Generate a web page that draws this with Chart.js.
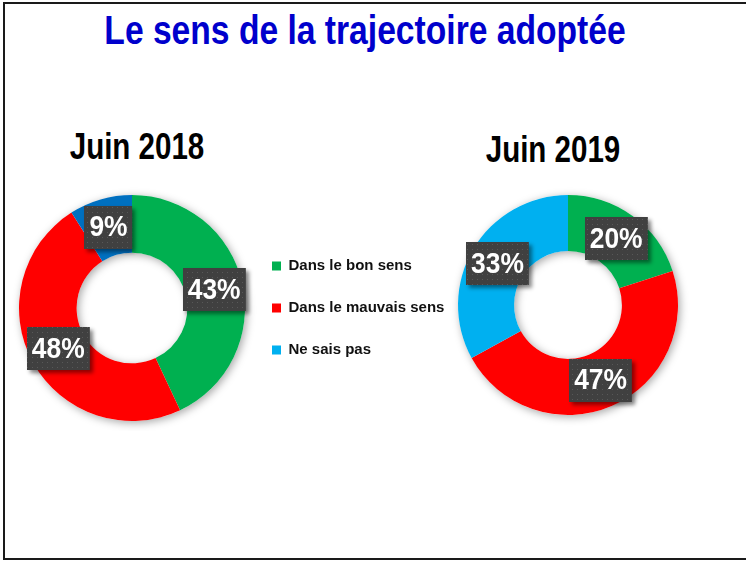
<!DOCTYPE html>
<html lang="fr">
<head>
<meta charset="utf-8">
<title>Le sens de la trajectoire adoptée</title>
<script src="https://cdn.jsdelivr.net/npm/chart.js@4.4.1/dist/chart.umd.min.js"></script>
<style>
  html, body { margin: 0; padding: 0; background: #fff; }
  .page { position: relative; width: 746px; height: 562px; overflow: hidden; }
  .frame { position: absolute; left: 3px; top: 2px; width: 760px; height: 554px; border: 2px solid #1a1a1a; border-right: none; }
  .title { position: absolute; margin: 0; text-align: center; white-space: nowrap; line-height: 1;
           font-family: "Liberation Sans", Arial, sans-serif; font-weight: bold;
           transform: scaleX(0.82); transform-origin: 50% 50%; }
  .main-title { left: 0; width: 730px; top: 10px; font-size: 41px; color: #0000CC; }
  .sub-title { width: 200px; font-size: 36px; color: #000; }
  canvas { position: absolute; }
</style>
</head>
<body>
<div class="page">
  <div class="frame"></div>
  <h1 class="title main-title">Le sens de la trajectoire adoptée</h1>
  <div class="title sub-title" id="t2018" style="left:37px; top:129px;"></div>
  <div class="title sub-title" id="t2019" style="left:453px; top:132px;"></div>
  <canvas id="chart2018" width="470" height="246" style="left:0; top:185px;"></canvas>
  <canvas id="chart2019" width="256" height="246" style="left:440px; top:182px;"></canvas>
</div>

<script>
const categories = ['Dans le bon sens', 'Dans le mauvais sens', 'Ne sais pas'];
const periods = ['Juin 2018', 'Juin 2019'];
const values2018 = [43, 48, 9];
const values2019 = [20, 47, 33];
const colors2018 = ['#00B050', '#FF0000', '#0070C0'];
const colors2019 = ['#00B050', '#FF0000', '#00B0F0'];

document.getElementById('t2018').textContent = periods[0];
document.getElementById('t2019').textContent = periods[1];

// little dotted texture for the label boxes
const dots = document.createElement('canvas');
dots.width = 5; dots.height = 5;
const dctx = dots.getContext('2d');
dctx.fillStyle = 'rgba(255,255,255,0.13)';
dctx.fillRect(2, 2, 1, 1);
const dotPattern = dctx.createPattern(dots, 'repeat');

// soft shadow behind the ring
const ringShadow = {
  id: 'ringShadow',
  beforeDatasetsDraw(chart) {
    const arc = chart.getDatasetMeta(0).data[0];
    if (!arc) return;
    const { x, y, outerRadius, innerRadius } = arc.getProps(['x', 'y', 'outerRadius', 'innerRadius'], true);
    const ctx = chart.ctx;
    ctx.save();
    ctx.beginPath();
    ctx.arc(x, y, outerRadius, 0, Math.PI * 2);
    ctx.arc(x, y, innerRadius, 0, Math.PI * 2, true);
    ctx.shadowColor = 'rgba(0,0,0,0.35)';
    ctx.shadowBlur = 8;
    ctx.shadowOffsetX = 2;
    ctx.shadowOffsetY = 2;
    ctx.fillStyle = '#fff';
    ctx.fill();
    ctx.restore();
  }
};

// dark boxed percentage labels, text squeezed like a narrow face
const NARROW = 0.88;
const boxLabels = {
  id: 'boxLabels',
  afterDatasetsDraw(chart) {
    const ctx = chart.ctx;
    const data = chart.data.datasets[0].data;
    chart.getDatasetMeta(0).data.forEach((arc, i) => {
      const p = arc.tooltipPosition(true);
      const text = data[i] + '%';
      ctx.save();
      ctx.font = 'bold 30px "Liberation Sans", Arial, sans-serif';
      const w = ctx.measureText(text).width * NARROW + 10;
      const h = 43;
      const bx = Math.round(p.x - w / 2), by = Math.round(p.y - h / 2);
      ctx.shadowColor = 'rgba(0,0,0,0.45)';
      ctx.shadowBlur = 4;
      ctx.shadowOffsetX = 3;
      ctx.shadowOffsetY = 3;
      ctx.fillStyle = '#404040';
      ctx.fillRect(bx, by, w, h);
      ctx.shadowColor = 'transparent';
      ctx.fillStyle = dotPattern;
      ctx.fillRect(bx, by, w, h);
      ctx.translate(p.x, p.y + 1);
      ctx.scale(NARROW, 1);
      ctx.fillStyle = '#fff';
      ctx.textAlign = 'center';
      ctx.textBaseline = 'middle';
      ctx.fillText(text, 0, 0);
      ctx.restore();
    });
  }
};

function donut(id, values, colors, padding, legend) {
  return new Chart(document.getElementById(id), {
    type: 'doughnut',
    data: {
      labels: categories,
      datasets: [{ data: values, backgroundColor: colors, borderWidth: 0, hoverOffset: 0 }]
    },
    options: {
      responsive: false,
      animation: false,
      events: [],
      cutout: '49%',
      layout: { padding: padding },
      plugins: { legend: legend, tooltip: { enabled: false }, title: { display: false } }
    },
    plugins: [ringShadow, boxLabels]
  });
}

const left = donut('chart2018', values2018, colors2018,
  { left: 19, right: 0, top: 10, bottom: 10 },
  {
    display: true,
    position: 'right',
    align: 'center',
    labels: {
      boxWidth: 9,
      boxHeight: 9,
      padding: 27,
      color: '#111',
      font: { family: '"Liberation Sans", Arial, sans-serif', weight: 'bold', size: 15 },
      generateLabels(chart) {
        const items = Chart.overrides.doughnut.plugins.legend.labels.generateLabels(chart);
        return items.map((it, i) => Object.assign(it, { fillStyle: colors2019[i], strokeStyle: colors2019[i], lineWidth: 0 }));
      }
    }
  });

// leave room so the ring area is 226px wide, legend right after it
left.options.layout.padding.right = Math.max(0, 470 - 19 - 226 - left.legend.width);
left.update('none');

donut('chart2019', values2019, colors2019,
  { left: 18, right: 18, top: 13, bottom: 13 },
  { display: false });
</script>
</body>
</html>
